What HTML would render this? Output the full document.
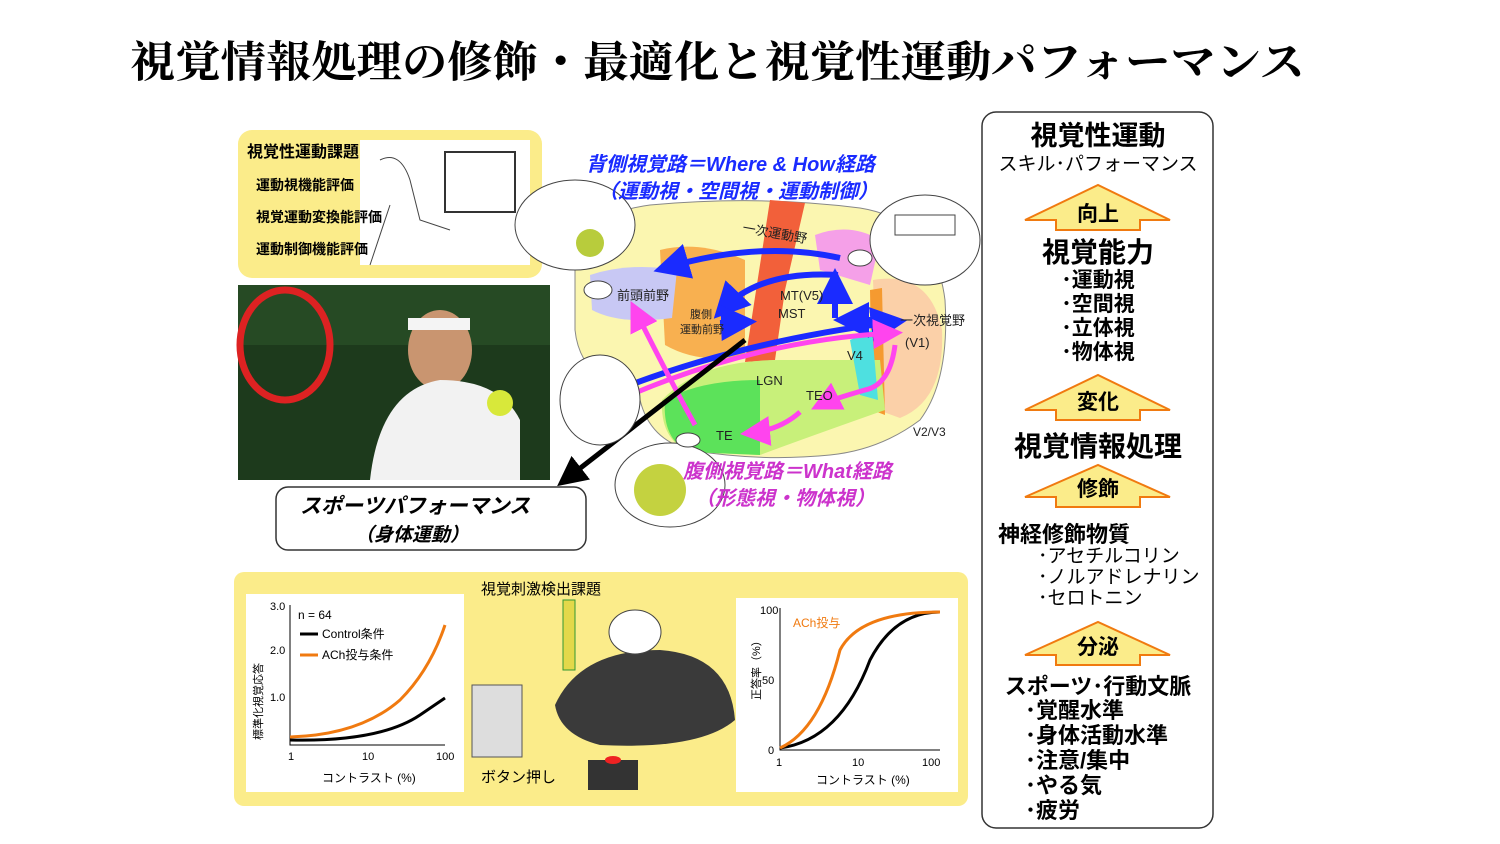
<!DOCTYPE html>
<html><head><meta charset="utf-8"><style>
body{margin:0;background:#fff;}
svg{display:block}
text{font-family:"Liberation Sans","Noto Sans CJK JP",sans-serif;}
.s{font-family:"Liberation Serif","Noto Serif CJK SC",serif;}
</style></head><body>
<svg width="1500" height="844" viewBox="0 0 1500 844" xmlns="http://www.w3.org/2000/svg">
<defs>
<marker id="ab" markerWidth="6" markerHeight="6" refX="4" refY="3" orient="auto"><path d="M0,0L6,3L0,6z" fill="#1a2bff"/></marker>
<marker id="am" markerWidth="6" markerHeight="6" refX="4" refY="3" orient="auto"><path d="M0,0L6,3L0,6z" fill="#ff44ee"/></marker>
<marker id="ak" markerWidth="6" markerHeight="6" refX="4" refY="3" orient="auto"><path d="M0,0L6,3L0,6z" fill="#000"/></marker>
</defs>
<text x="130" y="77" class="s" font-size="43" font-weight="bold" fill="#000" textLength="1175" lengthAdjust="spacingAndGlyphs">視覚情報処理の修飾・最適化と視覚性運動パフォーマンス</text>

<!-- top-left yellow box -->
<rect x="238" y="130" width="304" height="148" rx="14" fill="#fbec8a"/>
<rect x="360" y="140" width="170" height="125" fill="#fff"/>
<rect x="445" y="152" width="70" height="60" fill="none" stroke="#333" stroke-width="2"/>
<path d="M380 160 q20 -10 30 20 l10 40 l30 10 M370 265 l20 -60" stroke="#444" fill="none"/>
<text x="247" y="157" font-size="16" font-weight="bold">視覚性運動課題</text>
<text x="256" y="190" font-size="14" font-weight="bold">運動視機能評価</text>
<text x="256" y="222" font-size="14" font-weight="bold">視覚運動変換能評価</text>
<text x="256" y="254" font-size="14" font-weight="bold">運動制御機能評価</text>

<!-- photo -->
<rect x="238" y="285" width="312" height="195" fill="#1d3a1c"/>
<rect x="238" y="285" width="312" height="60" fill="#264a24"/>
<ellipse cx="440" cy="350" rx="32" ry="40" fill="#c99570"/>
<rect x="408" y="318" width="62" height="12" fill="#f4f4f4"/>
<path d="M370 480 q10 -90 70 -100 q60 0 80 40 l0 60 z" fill="#f2f2f2"/>
<ellipse cx="285" cy="345" rx="45" ry="55" fill="none" stroke="#d22" stroke-width="7"/>
<circle cx="500" cy="403" r="13" fill="#d8e83a"/>

<!-- sports box -->
<rect x="276" y="487" width="310" height="63" rx="12" fill="#fff" stroke="#333" stroke-width="1.5"/>
<text x="300" y="513" font-size="21" font-weight="bold" font-style="italic">スポーツパフォーマンス</text>
<text x="355" y="541" font-size="19" font-weight="bold" font-style="italic">（身体運動）</text>

<!-- brain -->
<path d="M575 270 Q575 215 650 205 Q760 195 860 208 Q935 220 945 300 Q950 380 920 420 Q880 450 830 455 Q760 462 690 450 Q650 440 640 400 Q580 380 575 330 Z" fill="#fbf6b0" stroke="#888" stroke-width="1"/>
<path d="M660 250 Q700 240 745 260 L745 355 Q700 365 665 345 Z" fill="#f8b050"/>
<path d="M590 275 Q630 262 677 270 L672 318 Q620 325 592 310 Z" fill="#c8c8f4"/>
<path d="M770 200 L805 203 L785 290 L775 360 L745 362 Z" fill="#f2603a"/>
<path d="M815 235 Q850 222 880 240 L870 285 L820 270 Z" fill="#f5a0e8"/>
<path d="M873 280 Q930 270 942 330 Q945 400 900 418 L878 410 Z" fill="#fbd0a8"/>
<path d="M870 290 L882 288 L885 415 L872 410 Z" fill="#f59a30"/>
<path d="M662 400 Q700 360 780 360 L880 360 L885 410 Q800 440 760 455 L690 452 Q660 440 662 400Z" fill="#c8f07a"/>
<path d="M665 400 Q700 380 760 380 L760 455 L690 452 Q662 440 665 400Z" fill="#5ce25a"/>
<path d="M850 340 L872 330 L878 400 L860 395 Z" fill="#4ee0e0"/>
<g stroke="#1a2bff" stroke-width="6" fill="none">
<path d="M840 258 Q760 240 665 268" marker-end="url(#ab)"/>
<path d="M838 275 Q760 270 722 310" marker-end="url(#ab)"/>
<path d="M720 323 L745 322" marker-end="url(#ab)"/>
<path d="M835 318 L835 280" marker-end="url(#ab)"/>
<path d="M630 385 Q750 340 895 322" marker-end="url(#ab)"/>
<path d="M890 320 L845 320" marker-end="url(#ab)"/>
</g>
<g stroke="#ff44ee" stroke-width="5" fill="none">
<path d="M630 395 Q760 340 893 333" marker-end="url(#am)"/>
<path d="M895 345 Q890 385 865 390 Q830 400 820 405" marker-end="url(#am)"/>
<path d="M800 412 Q780 430 750 433" marker-end="url(#am)"/>
<path d="M695 425 Q670 380 635 310" marker-end="url(#am)"/>
</g>
<path d="M745 340 L565 480" stroke="#000" stroke-width="5" marker-end="url(#ak)"/>
<g font-size="13" fill="#222">
<text x="617" y="300">前頭前野</text>
<text x="690" y="318" font-size="11">腹側</text><text x="680" y="333" font-size="11">運動前野</text>
<text x="742" y="232" transform="rotate(10 742 232)">一次運動野</text>
<text x="780" y="300">MT(V5)</text><text x="778" y="318">MST</text>
<text x="900" y="325">一次視覚野</text><text x="905" y="347">(V1)</text>
<text x="847" y="360">V4</text><text x="756" y="385">LGN</text><text x="806" y="400">TEO</text><text x="716" y="440">TE</text>
<text x="913" y="436" font-size="12">V2/V3</text>
</g>
<ellipse cx="575" cy="225" rx="60" ry="45" fill="#fff" stroke="#444"/>
<circle cx="590" cy="243" r="14" fill="#b8cc3c"/>
<ellipse cx="598" cy="290" rx="14" ry="9" fill="#fff" stroke="#444"/>
<ellipse cx="925" cy="240" rx="55" ry="45" fill="#fff" stroke="#444"/>
<rect x="895" y="215" width="60" height="20" fill="none" stroke="#444"/>
<ellipse cx="860" cy="258" rx="12" ry="8" fill="#fff" stroke="#444"/>
<ellipse cx="600" cy="400" rx="40" ry="45" fill="#fff" stroke="#444"/>
<ellipse cx="670" cy="485" rx="55" ry="42" fill="#fff" stroke="#444"/>
<circle cx="660" cy="490" r="26" fill="#c4d240"/>
<ellipse cx="688" cy="440" rx="12" ry="7" fill="#fff" stroke="#444"/>
<text x="586" y="171" font-size="20" font-weight="bold" font-style="italic" fill="#1a2bff">背側視覚路＝Where &amp; How経路</text>
<text x="598" y="198" font-size="20" font-weight="bold" font-style="italic" fill="#1a2bff">（運動視・空間視・運動制御）</text>
<text x="683" y="478" font-size="20" font-weight="bold" font-style="italic" fill="#cc33cc">腹側視覚路＝What経路</text>
<text x="695" y="505" font-size="20" font-weight="bold" font-style="italic" fill="#cc33cc">（形態視・物体視）</text>

<!-- bottom yellow box -->
<rect x="234" y="572" width="734" height="234" rx="10" fill="#fbec8a"/>
<rect x="246" y="594" width="218" height="198" fill="#fff"/>
<rect x="736" y="598" width="222" height="194" fill="#fff"/>
<path d="M290 605 L290 745 L445 745" stroke="#000" fill="none"/>
<path d="M290 740 Q380 742 420 715 L445 698" stroke="#000" stroke-width="3" fill="none"/>
<path d="M290 737 Q360 735 400 700 Q430 670 445 625" stroke="#f07a10" stroke-width="3" fill="none"/>
<text x="298" y="619" font-size="12">n = 64</text>
<text x="322" y="638" font-size="12">Control条件</text><path d="M300 634h18" stroke="#000" stroke-width="3"/>
<text x="322" y="659" font-size="12">ACh投与条件</text><path d="M300 655h18" stroke="#f07a10" stroke-width="3"/>
<text x="270" y="610" font-size="11">3.0</text><text x="270" y="654" font-size="11">2.0</text><text x="270" y="701" font-size="11">1.0</text>
<text x="288" y="760" font-size="11">1</text><text x="362" y="760" font-size="11">10</text><text x="436" y="760" font-size="11">100</text>
<text x="322" y="782" font-size="12">コントラスト (%)</text>
<text x="262" y="740" font-size="11" transform="rotate(-90 262 740)">標準化視覚応答</text>
<path d="M780 608 L780 750 L940 750" stroke="#000" fill="none"/>
<path d="M780 748 Q840 740 870 660 Q895 612 940 612" stroke="#000" stroke-width="3" fill="none"/>
<path d="M780 748 Q820 730 840 650 Q860 612 940 612" stroke="#f07a10" stroke-width="3" fill="none"/>
<text x="793" y="627" font-size="12" fill="#f07a10">ACh投与</text>
<text x="760" y="614" font-size="11">100</text><text x="762" y="684" font-size="11">50</text><text x="768" y="754" font-size="11">0</text>
<text x="776" y="766" font-size="11">1</text><text x="852" y="766" font-size="11">10</text><text x="922" y="766" font-size="11">100</text>
<text x="816" y="784" font-size="12">コントラスト (%)</text>
<text x="760" y="700" font-size="11" transform="rotate(-90 760 700)">正答率（%）</text>
<text x="481" y="594" font-size="15">視覚刺激検出課題</text>
<rect x="472" y="685" width="50" height="72" fill="#ddd" stroke="#555"/>
<path d="M555 705 Q580 650 660 650 Q730 655 735 720 Q700 750 600 745 Q560 735 555 705Z" fill="#3a3a3a"/>
<rect x="563" y="600" width="12" height="70" fill="#e3d84a" stroke="#393"/>
<rect x="588" y="760" width="50" height="30" fill="#333"/><ellipse cx="613" cy="760" rx="8" ry="4" fill="#e22"/>
<ellipse cx="635" cy="632" rx="26" ry="22" fill="#fff" stroke="#444"/>
<text x="481" y="782" font-size="15">ボタン押し</text>

<!-- right panel -->
<rect x="982" y="112" width="231" height="716" rx="14" fill="#fff" stroke="#333" stroke-width="1.5"/>
<g text-anchor="middle">
<text x="1098" y="145" font-size="27" font-weight="bold">視覚性運動</text>
<text x="1098" y="170" font-size="19">スキル･パフォーマンス</text>
<path d="M1025 220 L1098 185 L1170 220 L1140 220 L1140 230 L1056 230 L1056 220 Z" fill="#fbec8a" stroke="#f07a10" stroke-width="2"/>
<text x="1098" y="221" font-size="21" font-weight="bold">向上</text>
<text x="1098" y="262" font-size="28" font-weight="bold">視覚能力</text>
<text x="1098" y="287" font-size="21" font-weight="bold">･運動視</text><text x="1098" y="311" font-size="21" font-weight="bold">･空間視</text>
<text x="1098" y="335" font-size="21" font-weight="bold">･立体視</text><text x="1098" y="359" font-size="21" font-weight="bold">･物体視</text>
<path d="M1025 410 L1098 375 L1170 410 L1140 410 L1140 420 L1056 420 L1056 410 Z" fill="#fbec8a" stroke="#f07a10" stroke-width="2"/>
<text x="1098" y="409" font-size="21" font-weight="bold">変化</text>
<text x="1098" y="456" font-size="28" font-weight="bold">視覚情報処理</text>
<path d="M1025 497 L1098 465 L1170 497 L1140 497 L1140 507 L1056 507 L1056 497 Z" fill="#fbec8a" stroke="#f07a10" stroke-width="2"/>
<text x="1098" y="496" font-size="21" font-weight="bold">修飾</text>
<path d="M1025 655 L1098 622 L1170 655 L1140 655 L1140 665 L1056 665 L1056 655 Z" fill="#fbec8a" stroke="#f07a10" stroke-width="2"/>
<text x="1098" y="654" font-size="21" font-weight="bold">分泌</text>
<text x="1098" y="694" font-size="22" font-weight="bold">スポーツ･行動文脈</text>
</g>
<text x="998" y="542" font-size="22" font-weight="bold">神経修飾物質</text>
<text x="1038" y="562" font-size="19">･アセチルコリン</text>
<text x="1038" y="583" font-size="19">･ノルアドレナリン</text>
<text x="1038" y="604" font-size="19">･セロトニン</text>
<text x="1025" y="718" font-size="22" font-weight="bold">･覚醒水準</text>
<text x="1025" y="743" font-size="22" font-weight="bold">･身体活動水準</text>
<text x="1025" y="768" font-size="22" font-weight="bold">･注意/集中</text>
<text x="1025" y="793" font-size="22" font-weight="bold">･やる気</text>
<text x="1025" y="818" font-size="22" font-weight="bold">･疲労</text>
</svg>
</body></html>
